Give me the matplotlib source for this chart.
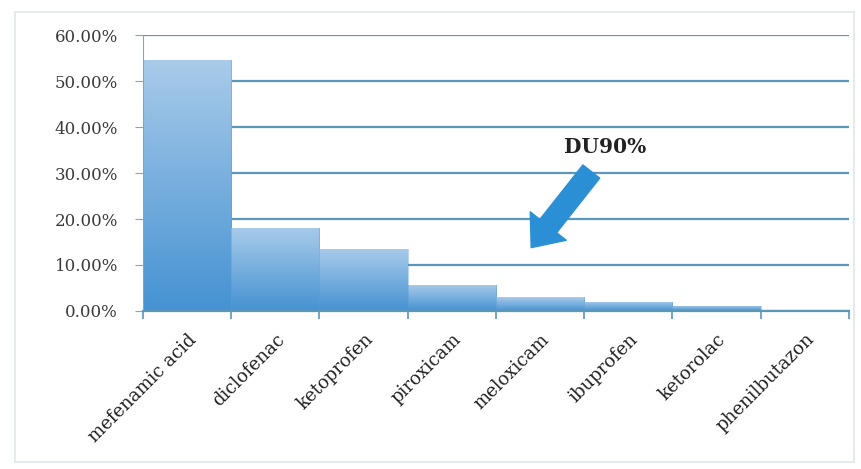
import numpy as np
import matplotlib.pyplot as plt
from matplotlib.patches import Rectangle
from matplotlib.ticker import FuncFormatter

drugs = ["mefenamic acid", "diclofenac", "ketoprofen", "piroxicam",
         "meloxicam", "ibuprofen", "ketorolac", "phenilbutazon"]
share = [54.6, 18.1, 13.5, 5.7, 3.0, 2.0, 1.1, 0.3]  # percent of total use

fig = plt.figure(figsize=(8.61, 4.69), dpi=100)
fig.patches.append(Rectangle((0.017, 0.015), 0.975, 0.96, transform=fig.transFigure,
                             fill=False, edgecolor="#dfe6ee", linewidth=1.2))
ax = fig.add_axes([0.166, 0.337, 0.82, 0.588])

x = np.arange(len(drugs))
bars = ax.bar(x, share, width=1.0, color="none", edgecolor="none", zorder=2)

# vertical gradient fill, light on top, darker at the base
grad = np.linspace(0, 1, 256).reshape(-1, 1)
cmap = plt.matplotlib.colors.LinearSegmentedColormap.from_list(
    "bl", ["#4592d2", "#a9cbea"])
for b in bars:
    x0, w, h = b.get_x(), b.get_width(), b.get_height()
    im = ax.imshow(grad, extent=(x0, x0 + w, 0, h), origin="lower", cmap=cmap,
                   aspect="auto", zorder=2)
    im.set_clip_path(b)
    ax.plot([x0 + w, x0 + w], [0, h], color="#5a9bd4", lw=0.6, zorder=3, alpha=0.5)

ax.set_xlim(-0.5, len(drugs) - 0.5)
ax.set_ylim(0, 60)
ax.set_yticks(np.arange(0, 61, 10))
ax.yaxis.set_major_formatter(FuncFormatter(lambda v, p: "%.2f%%" % v))
ax.grid(axis="y", color="#5b97b8", linewidth=1.6, zorder=1)
ax.set_axisbelow(True)

for s in ["top", "right"]:
    ax.spines[s].set_visible(False)
ax.spines["left"].set_color("#7fa7c4")
ax.spines["bottom"].set_color("#5b97b8")
ax.spines["bottom"].set_linewidth(1.6)
ax.tick_params(axis="y", length=6, color="#7fa7c4", labelsize=12, pad=12)
for t in ax.get_yticklabels():
    t.set_family("DejaVu Serif")
    t.set_color("#3a3a3a")

ax.set_xticks(x)
ax.set_xticklabels(drugs, rotation=45, ha="right", va="top", rotation_mode="anchor",
                   family="DejaVu Serif", fontsize=13, color="#222222")
ax.tick_params(axis="x", length=0, pad=14)
ax.set_xticks(np.arange(-0.5, len(drugs), 1.0), minor=True)
ax.tick_params(axis="x", which="minor", length=6, color="#5b97b8", width=1.2)

ax.annotate("", xy=(3.88, 13.3), xytext=(4.6, 30.8),
            arrowprops=dict(arrowstyle="simple,head_length=0.9,head_width=1.5,tail_width=0.7",
                            color="#2b8fd6", ec="#2b8fd6", mutation_scale=22), zorder=5)
ax.text(4.74, 35.6, "DU90%", ha="center", va="center", family="DejaVu Serif",
        fontweight="bold", fontsize=14.5, color="#222222", zorder=6)

fig.savefig("out.png", dpi=100)
